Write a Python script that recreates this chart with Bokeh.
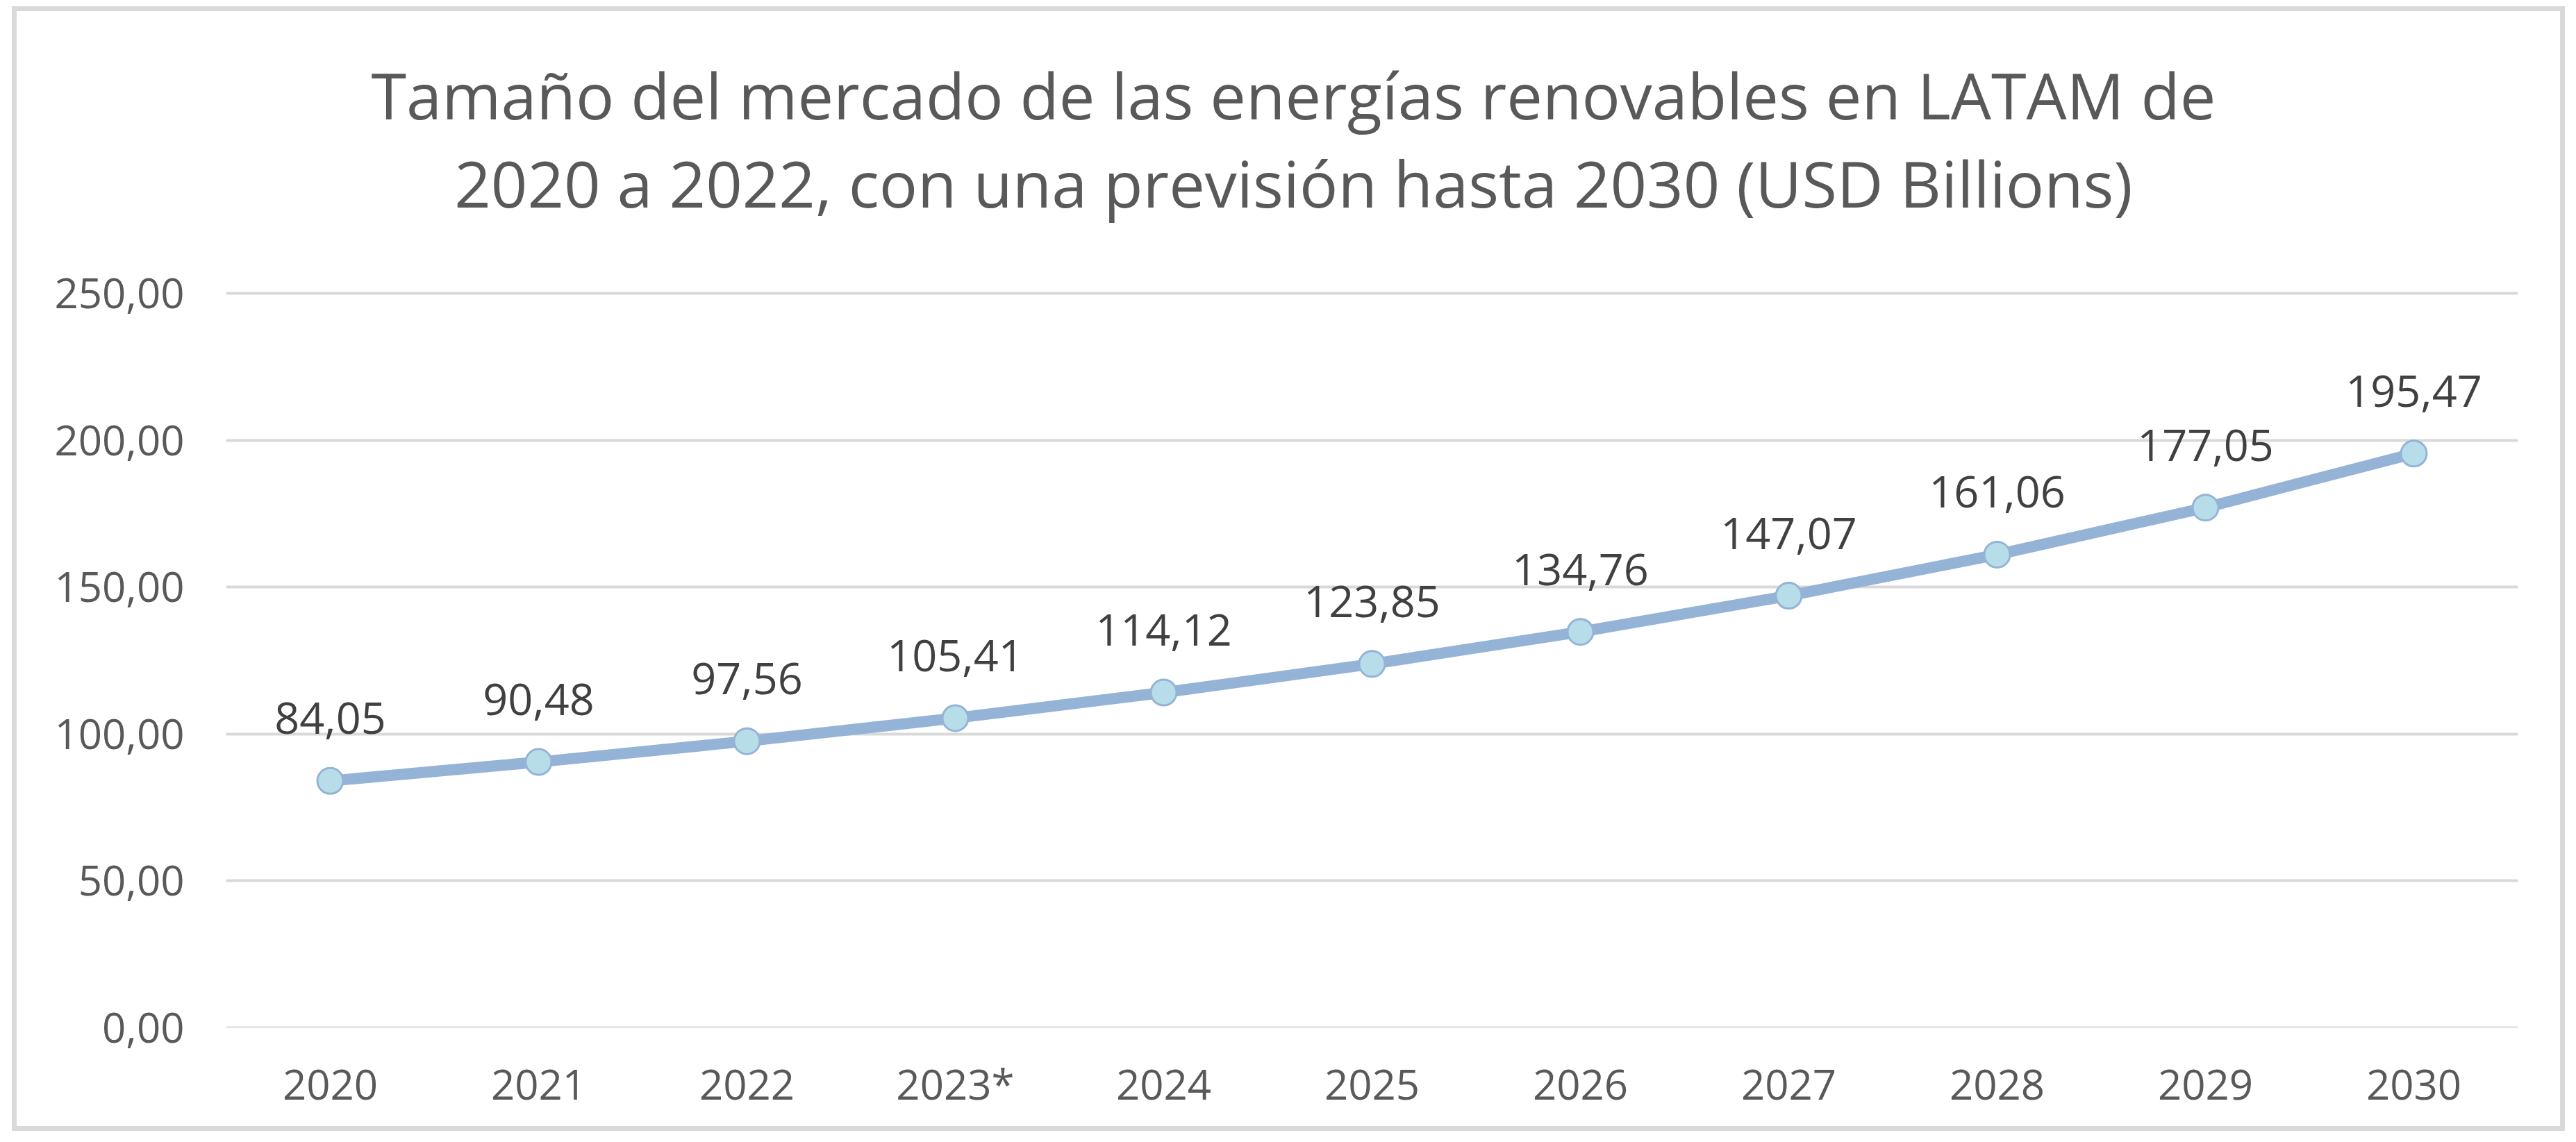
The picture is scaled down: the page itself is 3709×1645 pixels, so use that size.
from bokeh.plotting import figure
from bokeh.models import (ColumnDataSource, FactorRange, Range1d, FixedTicker, Span)
from bokeh.core.properties import value
from bokeh.embed import file_html
from bokeh.resources import INLINE

# ---- data ----
years = ["2020", "2021", "2022", "2023*", "2024", "2025", "2026", "2027", "2028", "2029", "2030"]
market_size = [84.05, 90.48, 97.56, 105.41, 114.12, 123.85, 134.76, 147.07, 161.06, 177.05, 195.47]
y_ticks = [0, 50, 100, 150, 200, 250]
y_tick_labels = ["0,00", "50,00", "100,00", "150,00", "200,00", "250,00"]
title_lines = ["Tamaño del mercado de las energías renovables en LATAM de",
               "2020 a 2022, con una previsión hasta 2030 (USD Billions)"]

FONT = "Open Sans"
GRID = "#D9D9D9"
LINE = "#95B3D7"
MARK = "#B7DEE8"

# layout (pixels)
PLOT_H = 1058      # height of the 0..250 value area
TOP_PAD = 406      # space above it (title area, kept inside the frame)
Y_MAX = y_ticks[-1] * (PLOT_H + TOP_PAD) / PLOT_H
PX_PER_UNIT = PLOT_H / y_ticks[-1]
TITLE_PX_ABOVE = [286, 159]   # title anchors above the top gridline
TITLE_X = 5.123               # centre of the title, in category units

labels = [f"{v:.2f}".replace(".", ",") for v in market_size]
src = ColumnDataSource(dict(x=years, y=market_size, lab=labels))
title_src = ColumnDataSource(dict(
    x=[TITLE_X] * len(title_lines),
    y=[y_ticks[-1] + d / PX_PER_UNIT for d in TITLE_PX_ABOVE],
    t=title_lines))

p = figure(
    x_range=FactorRange(*years), y_range=Range1d(0, Y_MAX),
    width=3676, height=1620,
    output_backend="svg", toolbar_location=None,
    min_border_left=301, min_border_right=75, min_border_top=0, min_border_bottom=156,
    background_fill_color="white", border_fill_color="white",
    styles={"border": f"7px solid {GRID}", "margin-left": "17px", "margin-top": "9px"},
)
p.outline_line_color = None

# grid
p.xgrid.grid_line_color = None
p.ygrid.grid_line_color = GRID
p.ygrid.grid_line_width = 4
p.ygrid.ticker = FixedTicker(ticks=y_ticks)
p.add_layout(Span(location=y_ticks[0], dimension="width", line_color=GRID, line_width=4))

# axes
p.yaxis.ticker = FixedTicker(ticks=y_ticks)
p.yaxis.major_label_overrides = {t: l for t, l in zip(y_ticks, y_tick_labels)}
for ax in (p.xaxis[0], p.yaxis[0]):
    ax.axis_line_color = None
    ax.major_tick_line_color = None
    ax.minor_tick_line_color = None
    ax.major_tick_out = 0
    ax.major_tick_in = 0
    ax.minor_tick_out = 0
    ax.major_label_text_font = FONT
    ax.major_label_text_font_size = "60px"
    ax.major_label_text_color = "#595959"
p.yaxis.major_label_standoff = 60
p.xaxis.major_label_standoff = 39

# series
p.line("x", "y", source=src, line_color=LINE, line_width=16)
p.scatter("x", "y", source=src, size=37, fill_color=MARK, line_color=LINE, line_width=3)
p.text("x", "y", text="lab", source=src, text_align="center", text_baseline="alphabetic",
       y_offset=-90, text_font=value(FONT), text_font_size="63px", text_color="#404040")

# title (two centred lines) in the top part of the frame
p.text("x", "y", text="t", source=title_src, text_align="center", text_baseline="alphabetic",
       text_font=value(FONT), text_font_size="92px", text_color="#595959")

open("out.html", "w").write(file_html(p, INLINE))
